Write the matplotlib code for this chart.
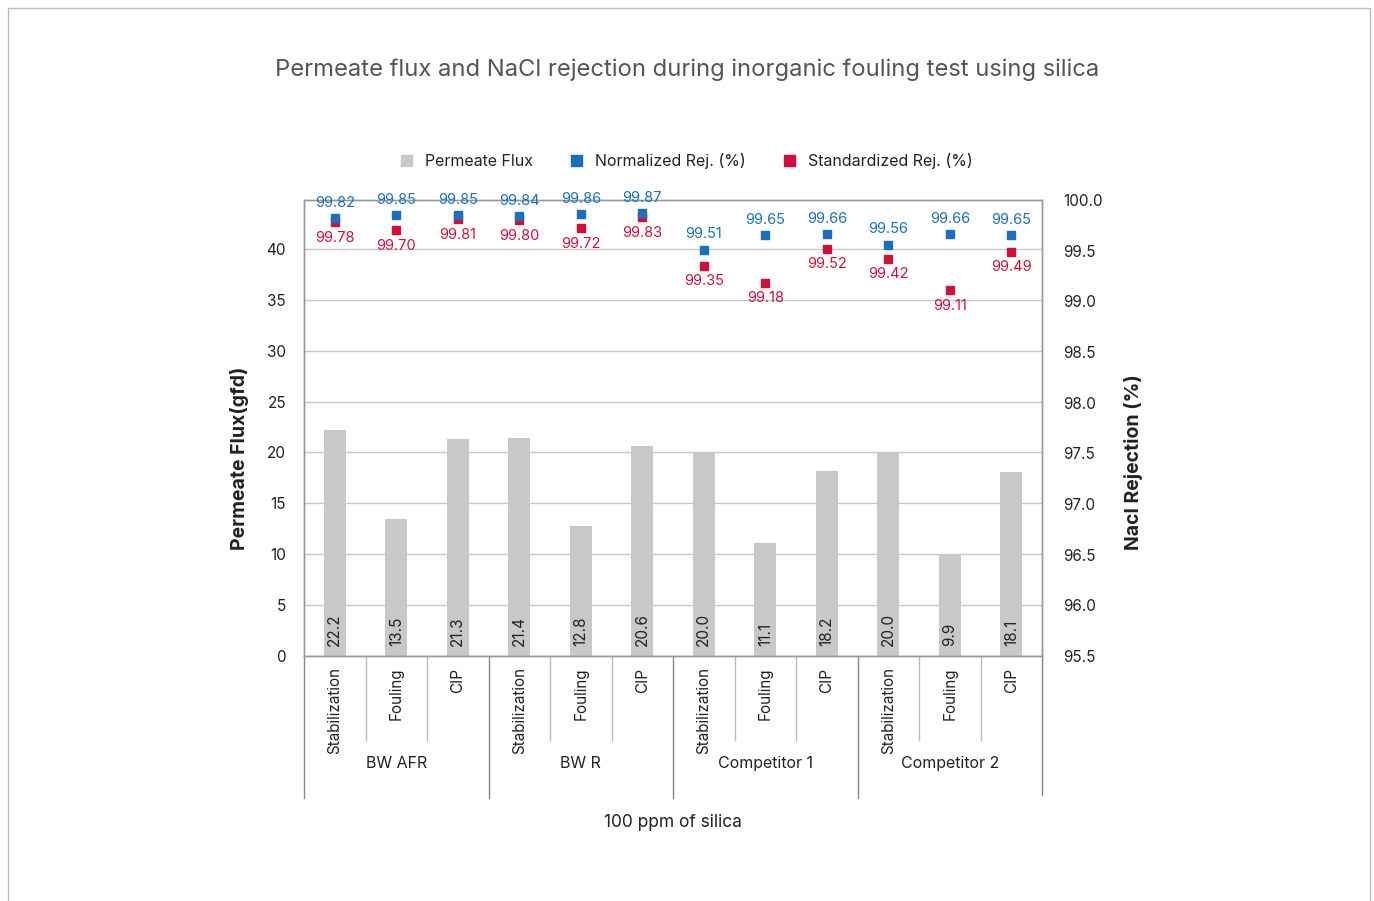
import numpy as np
import matplotlib.pyplot as plt
from matplotlib.patches import Patch, Rectangle
from matplotlib.lines import Line2D
import matplotlib.transforms as mtransforms

plt.rcParams['font.family'] = ['Inter', 'DejaVu Sans']

groups = ["BW AFR", "BW R", "Competitor 1", "Competitor 2"]
stages = ["Stabilization", "Fouling", "CIP"]
flux = [22.2, 13.5, 21.3, 21.4, 12.8, 20.6, 20.0, 11.1, 18.2, 20.0, 9.9, 18.1]
norm_rej = [99.82, 99.85, 99.85, 99.84, 99.86, 99.87, 99.51, 99.65, 99.66, 99.56, 99.66, 99.65]
std_rej = [99.78, 99.70, 99.81, 99.80, 99.72, 99.83, 99.35, 99.18, 99.52, 99.42, 99.11, 99.49]

grey = "#C8C8C8"
blue = "#1A6FBF"
red = "#D0103A"
txt = "#222222"

fig = plt.figure(figsize=(13.74, 9.01), dpi=100)
fig.patches.append(Rectangle((0.006, -0.01), 0.991, 1.001, transform=fig.transFigure,
                             fill=False, edgecolor="#BBBBBB", lw=1.0))
ax = fig.add_axes([0.2213, 0.2719, 0.5371, 0.5061])
ax2 = ax.twinx()

n = len(flux)
x = np.arange(n)
ax.bar(x, flux, width=0.36, color=grey, zorder=2)
for xi, v in zip(x, flux):
    ax.text(xi, 1.0, f"{v:.1f}", rotation=90, ha="center", va="bottom",
            fontsize=11, color=txt, zorder=3)

ax.set_xlim(-0.5, n - 0.5)
ax.set_ylim(0, 44.8)
ax.set_yticks(np.arange(0, 41, 5))
ax.grid(axis="y", color="#C8C8C8", lw=1.0, zorder=0)
ax.set_axisbelow(True)
ax.set_xticks([])
ax.tick_params(axis="y", length=0, labelsize=11, colors=txt, pad=13)
ax.set_ylabel("Permeate Flux(gfd)", fontsize=14, fontweight="bold", color=txt)
ax.yaxis.set_label_coords(-0.0745, 0.434)

ax2.set_ylim(95.5, 100.0)
ax2.set_yticks(np.arange(95.5, 100.01, 0.5))
ax2.set_yticklabels([f"{v:.1f}" for v in np.arange(95.5, 100.01, 0.5)])
ax2.tick_params(axis="y", length=0, labelsize=11, colors=txt, pad=15)
ax2.set_ylabel("Nacl Rejection (%)", fontsize=14, fontweight="bold", color=txt)
ax2.yaxis.set_label_coords(1.111, 0.425)

ax2.plot(x, std_rej, "s", color=red, ms=6, zorder=4)
ax2.plot(x, norm_rej, "s", color=blue, ms=6, zorder=5)
for xi, nv, sv in zip(x, norm_rej, std_rej):
    ax2.annotate(f"{nv:.2f}", (xi, nv), xytext=(0, 6), textcoords="offset points",
                 ha="center", va="bottom", fontsize=10.5, color=blue)
    ax2.annotate(f"{sv:.2f}", (xi, sv), xytext=(0, -6), textcoords="offset points",
                 ha="center", va="top", fontsize=10.5, color=red)

for a in (ax, ax2):
    for s in a.spines.values():
        s.set_color("#999999")
        s.set_linewidth(1.0)

# hierarchical category axis
trans = mtransforms.blended_transform_factory(ax.transData, ax.transAxes)
line_kw = dict(color="#888888", lw=1.0, transform=trans, clip_on=False)
for i in range(n):
    ax.text(x[i], -0.025, stages[i % 3], rotation=90, ha="center", va="top",
            fontsize=11, color=txt, transform=trans)
for i in range(1, n):
    if i % 3 == 0:
        ax.add_line(Line2D([i - 0.5, i - 0.5], [0, -0.311], **line_kw))
    else:
        ax.add_line(Line2D([i - 0.5, i - 0.5], [0, -0.184], color="#BBBBBB", lw=1.0,
                           transform=trans, clip_on=False))
ax.add_line(Line2D([-0.5, -0.5], [0, -0.311], **line_kw))
ax.add_line(Line2D([n - 0.5, n - 0.5], [0, -0.305], **line_kw))
for g, name in enumerate(groups):
    ax.text(3 * g + 1, -0.235, name, ha="center", va="center", fontsize=11.5,
            color=txt, transform=trans)
ax.text(0.5, -0.364, "100 ppm of silica", ha="center", va="center", fontsize=12.5,
        color=txt, transform=ax.transAxes)

fig.text(0.5, 0.923, "Permeate flux and NaCl rejection during inorganic fouling test using silica",
         ha="center", va="center", fontsize=17.1, color="#555555")

handles = [Patch(color=grey, label="Permeate Flux"),
           Patch(color=blue, label="Normalized Rej. (%)"),
           Patch(color=red, label="Standardized Rej. (%)")]
fig.legend(handles=handles, loc="center", bbox_to_anchor=(0.5, 0.821), ncol=3,
           frameon=False, fontsize=11.5, handlelength=0.7, handleheight=0.7,
           columnspacing=2.4, handletextpad=0.8, labelcolor=txt)

fig.savefig("out.png", dpi=100)
